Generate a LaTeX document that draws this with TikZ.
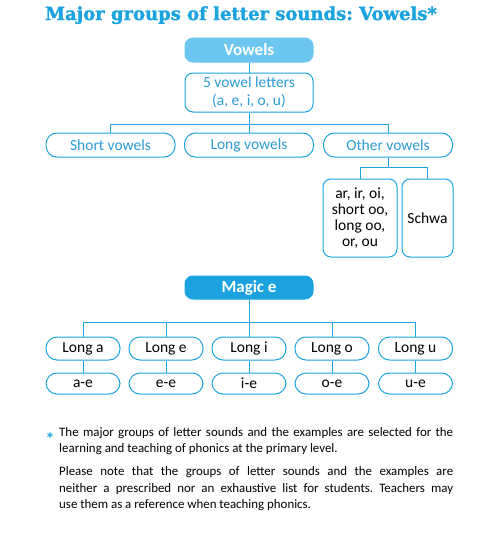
\documentclass[tikz,border=0pt]{standalone}
\usepackage{fontspec}
\setmainfont{Carlito}
\newfontfamily\titlefont[BoldFont={DejaVu Serif Bold},BoldFeatures={FakeBold=1.6}]{DejaVu Serif}
\usetikzlibrary{shapes}
\definecolor{vblue}{HTML}{1AA3DF}
\definecolor{vlight}{HTML}{6CC6EF}
\definecolor{vtext}{HTML}{2A9AD5}
\frenchspacing

\begin{document}
\begin{tikzpicture}[x=1pt,y=-1pt,
  box/.style={shape=rectangle,draw=vblue,align=center,line width=1pt,rounded corners=8pt,inner sep=0pt,font=\fontsize{15.5}{18}\selectfont},
  pill/.style={box,rounded corners=11pt},
  head/.style={box,text=white,font=\fontsize{17}{20}\selectfont\bfseries}]
\useasboundingbox (0,0) rectangle (485,538);

\node[text=vblue,inner sep=0pt,anchor=base,font=\fontsize{18}{20}\selectfont\titlefont\bfseries] (t) at (241,20) {Major groups of letter sounds: Vowels*};

\node[head,fill=vlight,draw=vlight,minimum width=128pt,minimum height=24pt] (0) at (249,50) {Vowels};
\node[box,text=vtext,minimum width=128pt,minimum height=39pt] (1) at (249,92.5) {5 vowel letters\\(a, e, i, o, u)};
\node[pill,text=vtext,minimum width=129pt,minimum height=24pt] (2) at (110.5,145) {Short vowels};
\node[pill,text=vtext,minimum width=129pt,minimum height=24pt] (3) at (249,145) {Long vowels};
\node[pill,text=vtext,minimum width=129pt,minimum height=24pt] (4) at (388,145) {Other vowels};
\node[box,minimum width=74pt,minimum height=78pt,font=\fontsize{15.5}{16}\selectfont] (5) at (360,218) {ar, ir, oi,\\short oo,\\long oo,\\or, ou};
\node[box,minimum width=51pt,minimum height=78pt] (6) at (427.5,218) {Schwa};
\node[head,fill=vblue,minimum width=128pt,minimum height=23pt] (7) at (249,287.5) {Magic e};

\coordinate (j0) at (249,124);
\coordinate (j1) at (388,167);
\coordinate (j2) at (249,322);

\path [-,draw=vblue,line width=1pt] (0) edge node {} (1);
\path [-,draw=vblue,line width=1pt] (1) -- (j0) -| (2) (j0) -- (3) (j0) -| (4);
\path [-,draw=vblue,line width=1pt] (4) -- (j1) -| (5) (j1) -| (6);
\path [-,draw=vblue,line width=1pt] (7) -- (j2);

\foreach \i/\x/\ltr in {0/83/a,1/166/e,2/249/i,3/332/o,4/415.5/u} {
  \node[pill,minimum width=74pt,minimum height=23pt] (a\i) at (\x,348.5) {Long \ltr};
  \node[pill,minimum width=74pt,minimum height=21pt] (b\i) at (\x,383.5) {\ltr-e};
  \path [-,draw=vblue,line width=1pt] (j2) -| (a\i) (a\i) edge node {} (b\i);
}

\node[text=vblue,inner sep=0pt,font=\fontsize{18}{18}\selectfont\bfseries] (s) at (50,439) {*};
\node[anchor=north west,text width=394pt,inner sep=0pt,align=justify,font=\fontsize{12.9}{16.3}\selectfont] (n) at (59,427) {\hyphenpenalty=10000 The major groups of letter sounds and the examples are selected for the learning and teaching of phonics at the primary level.\par\vspace{7pt}Please note that the groups of letter sounds and the examples are\linebreak neither a prescribed nor an exhaustive list for students. Teachers may\linebreak use them as a reference when teaching phonics.};
\end{tikzpicture}
\end{document}
